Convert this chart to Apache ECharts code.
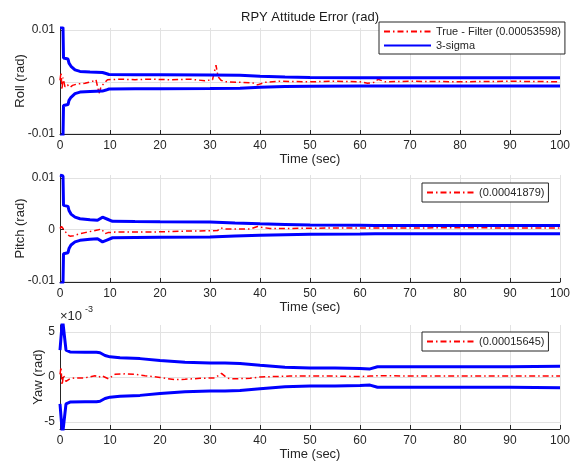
<!DOCTYPE html>
<html><head><meta charset="utf-8">
<script src="https://cdn.jsdelivr.net/npm/echarts@6/dist/echarts.min.js"></script>
<style>html,body{margin:0;padding:0;background:#fff}#c{width:588px;height:465px}</style>
</head><body><div id="c"></div><script>
// All values in milliradians (1e-3 rad), time in seconds
const xTicks = [0,10,20,30,40,50,60,70,80,90,100];
const rollTicks = [-10,0,10];
const pitchTicks = [-10,0,10];
const yawTicks = [-5,0,5];

const rollSigT  = [0,0.6,0.7,1.6,1.8,2.2,3,4,6,8.5,9.2,9.8,15,20,30,36,40,45,50,60,70,80,90,100];
const rollSigUp = [10.5,10.5,4.6,4.4,3.6,3.0,2.3,2.0,1.9,1.8,1.6,1.4,1.35,1.35,1.3,1.25,1.05,0.9,0.85,0.8,0.8,0.8,0.8,0.8];
const rollSigLo = [-10.5,-10.5,-4.6,-4.4,-3.6,-3.0,-2.3,-2.0,-1.9,-1.8,-1.6,-1.4,-1.35,-1.35,-1.3,-1.25,-1.05,-0.9,-0.85,-0.8,-0.8,-0.8,-0.8,-0.8];
const rollErrT  = [0,0.2,0.4,0.6,1.0,1.5,2.0,2.5,3.5,5,6.5,7.2,7.8,8.2,8.8,9.5,12,15,18,22,26,29,30.5,31.2,31.6,32.2,33,36,38.5,39.5,41,44,50,55,60,61.5,63,63.6,65,70,80,90,100];
const rollErr   = [0.3,1.8,-1.5,0.8,-1.0,-0.6,-1.1,-0.7,-0.4,-0.3,0.1,0.4,-2.2,-1.0,-0.3,0.4,0.5,0.4,0.5,0.4,0.5,0.2,0.4,3.2,1.0,0.3,0.0,-0.1,-0.2,-0.6,-0.1,0.1,0.0,0.1,0.0,-0.3,-0.1,0.5,0.0,0.1,0.0,0.1,0.0];

const pitchSigT  = [0,0.6,0.7,1.6,1.8,2.2,3,4,6,7.5,8.5,9.5,10.5,15,20,30,35,40,45,50,60,63,70,80,90,100];
const pitchSigUp = [10.6,10.4,4.7,4.5,3.7,3.0,2.4,2.1,1.9,1.8,2.4,2.0,1.6,1.55,1.5,1.45,1.25,1.1,1.0,0.9,0.85,0.8,0.8,0.8,0.8,0.8];
const pitchSigLo = [-10.6,-10.4,-4.7,-4.5,-3.7,-3.0,-2.4,-2.1,-1.9,-1.8,-2.4,-2.0,-1.6,-1.55,-1.5,-1.45,-1.25,-1.1,-1.0,-0.9,-0.85,-0.8,-0.8,-0.8,-0.8,-0.8];
const pitchErrT  = [0,0.3,0.6,1.0,1.5,2.0,2.7,3.7,5,6.5,7.7,8.3,9.0,9.6,11,15,20,25,30,31.5,32.2,33,35,38,39.5,40.5,42,45,50,55,60,65,70,80,90,100];
const pitchErr   = [0.2,0.6,0.4,-0.3,-1.0,-1.3,-1.2,-0.9,-0.6,-0.3,-0.05,0.1,-0.8,-0.6,-0.5,-0.5,-0.45,-0.3,-0.25,-0.2,0.3,0.1,0.1,0.1,0.6,0.4,0.2,0.2,0.25,0.3,0.3,0.3,0.3,0.35,0.3,0.3];

const yawSigT  = [0,0.3,0.5,0.9,1.2,2,5,7.3,8.0,9,10,12,16,20,25,30,33,36,40,45,50,55,60,62,63.5,70,80,90,100];
const yawSigUp = [3.0,3.2,6.5,6.5,3.0,2.8,2.75,2.75,2.7,2.4,2.25,2.15,2.05,1.85,1.65,1.55,1.55,1.5,1.3,1.1,1.0,1.0,0.95,0.9,1.15,1.15,1.15,1.15,1.2];
const yawSigLo = [-3.0,-3.2,-6.5,-6.5,-3.0,-2.8,-2.75,-2.75,-2.7,-2.4,-2.25,-2.15,-2.05,-1.85,-1.65,-1.55,-1.55,-1.5,-1.3,-1.1,-1.0,-1.0,-0.95,-0.9,-1.15,-1.15,-1.15,-1.15,-1.2];
const yawErrT  = [0,0.2,0.4,0.7,1.2,2,3,5,7,7.7,8.3,9.7,11,13,15,17,20,23,25,28,31,32.3,33.5,35,38,40,43,46,50,55,60,62,64,70,80,90,100];
const yawErr   = [0.3,1.1,-0.9,0.2,-0.5,-0.2,-0.1,-0.1,0.15,-0.05,0.15,-0.2,0.3,0.35,0.3,0.15,-0.05,-0.3,-0.25,-0.15,-0.1,0.4,-0.15,-0.2,-0.15,0.0,0.05,0.1,0.1,0.1,0.05,0.1,0.15,0.1,0.1,0.1,0.1];

const legendNames = ['True - Filter (0.00053598)','3-sigma','(0.00041879)','(0.00015645)'];

const F = "'Liberation Sans', Arial, Helvetica, sans-serif";
const AX = '#262626';
const GRIDC = '#e2e2e2';
const pairs = (t,v) => t.map((x,i)=>[x, v[i]]);

const grids = [
  {left:60, width:500, top:28, height:106},
  {left:60, width:500, top:175, height:107},
  {left:60, width:500, top:325, height:104}
];
const yInfo = [
  {min:-10.1, max:10.4, ticks:rollTicks, name:'Roll (rad)', gap:33, fmt:v=>v===0?'0':String(v/1000)},
  {min:-10.2, max:10.6, ticks:pitchTicks, name:'Pitch (rad)', gap:33, fmt:v=>v===0?'0':String(v/1000)},
  {min:-5.8, max:5.8, ticks:yawTicks, name:'Yaw (rad)', gap:15, fmt:v=>String(v)}
];

const xAxes = grids.map((g,i)=>({
  type:'value', gridIndex:i, min:0, max:100, interval:10,
  name:'Time (sec)', nameLocation:'middle', nameGap:19, nameMoveOverlap:false,
  nameTextStyle:{fontSize:13, color:AX, fontFamily:F},
  axisLine:{show:true, onZero:false, lineStyle:{color:AX, width:1}},
  axisTick:{show:true, inside:true, length:4, lineStyle:{color:AX}},
  axisLabel:{fontSize:12, color:AX, fontFamily:F, margin:6},
  splitLine:{show:true, lineStyle:{color:GRIDC, width:1}}
}));
const yAxes = yInfo.map((y,i)=>({
  type:'value', gridIndex:i, min:y.min, max:y.max,
  name:y.name, nameLocation:'middle', nameGap:y.gap, nameMoveOverlap:false,
  nameTextStyle:{fontSize:13, color:AX, fontFamily:F},
  axisLine:{show:true, onZero:false, lineStyle:{color:AX, width:1}},
  axisTick:{show:true, inside:true, length:4, customValues:y.ticks, lineStyle:{color:AX}},
  axisLabel:{fontSize:12, color:AX, fontFamily:F, margin:5, customValues:y.ticks, formatter:y.fmt},
  splitLine:{show:true, lineStyle:{color:GRIDC, width:1}}
}));

function red(name, i, t, v){
  return {type:'line', name, xAxisIndex:i, yAxisIndex:i, data:pairs(t,v), symbol:'none', silent:true, z:2,
    itemStyle:{color:'#ff0000'}, lineStyle:{color:'#ff0000', width:1.5, type:[6,3,1.5,3]}};
}
function blue(name, i, t, v){
  return {type:'line', name, xAxisIndex:i, yAxisIndex:i, data:pairs(t,v), symbol:'none', silent:true, z:3,
    itemStyle:{color:'#0000ff'}, lineStyle:{color:'#0000ff', width:3}};
}

const legendBase = {orient:'vertical', padding:[4,4,3,4], itemGap:3, itemWidth:47, itemHeight:12,
  borderColor:AX, borderWidth:1, backgroundColor:'#fff', borderRadius:0, selectedMode:false,
  itemStyle:{color:'rgba(0,0,0,0)', borderWidth:0, opacity:0},
  textStyle:{fontSize:11, color:AX, fontFamily:F}};

const option = {
  animation:false,
  backgroundColor:'#fff',
  grid: grids,
  xAxis: xAxes,
  yAxis: yAxes,
  legend: [
    Object.assign({}, legendBase, {left:379, top:22, data:[legendNames[0], legendNames[1]]}),
    Object.assign({}, legendBase, {left:422, top:183, padding:[4,4,4,4], data:[legendNames[2]]}),
    Object.assign({}, legendBase, {left:422, top:332, padding:[4,4,4,4], data:[legendNames[3]]})
  ],
  graphic: [
    {type:'text', x:310, y:17, silent:true, style:{text:'RPY Attitude Error (rad)', fill:'#1a1a1a', font:"13px "+F, textAlign:'center', textVerticalAlign:'middle'}},
    {type:'text', x:60, y:316, silent:true, style:{text:'\u00d710', fill:AX, font:"13px "+F, textAlign:'left', textVerticalAlign:'middle'}},
    {type:'text', x:85, y:310, silent:true, style:{text:'-3', fill:AX, font:"9px "+F, textAlign:'left', textVerticalAlign:'middle'}}
  ],
  series: [
    red(legendNames[0], 0, rollErrT, rollErr),
    blue('3-sigma', 0, rollSigT, rollSigUp),
    blue('3-sigma', 0, rollSigT, rollSigLo),
    red(legendNames[2], 1, pitchErrT, pitchErr),
    blue('pitch sigma up', 1, pitchSigT, pitchSigUp),
    blue('pitch sigma lo', 1, pitchSigT, pitchSigLo),
    red(legendNames[3], 2, yawErrT, yawErr),
    blue('yaw sigma up', 2, yawSigT, yawSigUp),
    blue('yaw sigma lo', 2, yawSigT, yawSigLo)
  ]
};
const chart = echarts.init(document.getElementById('c'), null, {renderer:'canvas'});
chart.setOption(option);
</script></body></html>
